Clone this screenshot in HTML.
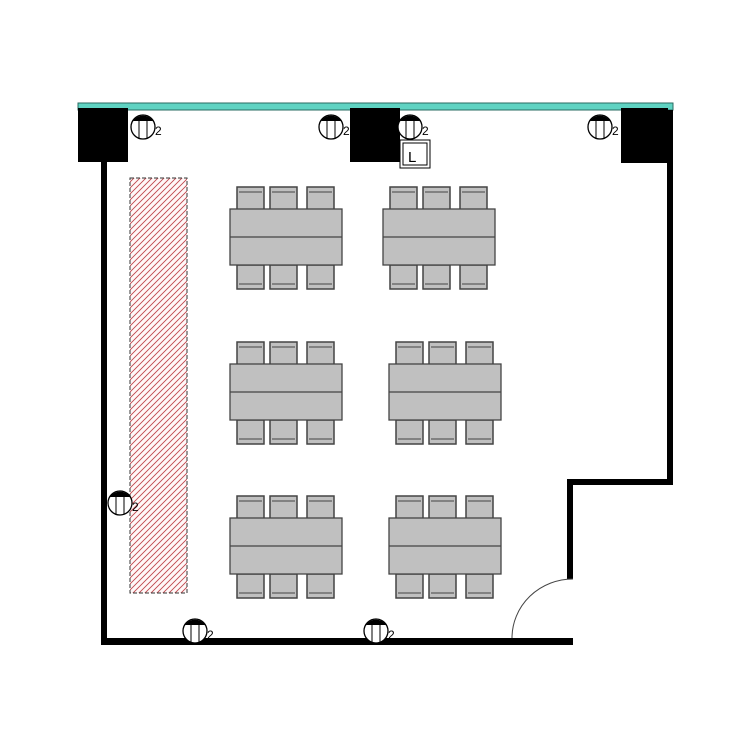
<!DOCTYPE html>
<html><head><meta charset="utf-8"><style>body{margin:0;background:#fff}svg{display:block}</style></head>
<body>
<svg width="750" height="750" viewBox="0 0 750 750" xmlns="http://www.w3.org/2000/svg" font-family="Liberation Sans, sans-serif">
<defs>
<pattern id="h" width="6" height="6" patternUnits="userSpaceOnUse">
<path d="M-1,7 L7,-1 M-1,1 L1,-1 M5,7 L7,5" stroke="#c0474d" stroke-width="0.9"/>
</pattern>
<g id="fx">
<circle cx="0" cy="0" r="12" fill="#fff" stroke="#000" stroke-width="1.3"/>
<path d="M-10,-6 A12,12 0 0 1 10,-6 Z" fill="#000"/>
<line x1="-4" y1="-6" x2="-4" y2="11" stroke="#000"/>
<line x1="4" y1="-6" x2="4" y2="11" stroke="#000"/>
<text x="12" y="8" font-size="12">2</text>
</g>
<g id="ch">
<rect x="0" y="0" width="27" height="24" fill="#c0c0c0" stroke="#444" stroke-width="1.5"/>
<line x1="2" y1="5" x2="25" y2="5" stroke="#444"/>
</g>
<g id="tb">
<use href="#ch" x="7" y="-22"/><use href="#ch" x="40" y="-22"/><use href="#ch" x="77" y="-22"/>
<use href="#ch" transform="translate(7,80) scale(1,-1)"/><use href="#ch" transform="translate(40,80) scale(1,-1)"/><use href="#ch" transform="translate(77,80) scale(1,-1)"/>
<rect x="0" y="0" width="112" height="56" fill="#c0c0c0" stroke="#444" stroke-width="1.3"/>
<line x1="0" y1="28" x2="112" y2="28" stroke="#444" stroke-width="1.3"/>
</g>
</defs>
<rect x="78" y="103" width="595" height="7" fill="#5fd3c2" stroke="#2a6b62" stroke-width="1"/>
<rect x="101" y="110" width="6" height="535" fill="#000"/>
<rect x="101" y="638" width="472" height="7" fill="#000"/>
<rect x="667" y="110" width="6" height="375" fill="#000"/>
<rect x="567" y="479" width="106" height="6" fill="#000"/>
<rect x="567" y="479" width="6" height="100" fill="#000"/>
<path d="M573,579 A61,59 0 0 0 512,638" fill="none" stroke="#444" stroke-width="1"/>
<rect x="78" y="108" width="50" height="54" fill="#000"/>
<rect x="350" y="108" width="50" height="54" fill="#000"/>
<rect x="621" y="108" width="47" height="55" fill="#000"/>
<rect x="130" y="178" width="57" height="415" fill="#fff8f8"/>
<rect x="130" y="178" width="57" height="415" fill="url(#h)" stroke="#333" stroke-dasharray="4,2" stroke-width="1"/>
<use href="#fx" x="143" y="127"/><use href="#fx" x="331" y="127"/><use href="#fx" x="410" y="127"/><use href="#fx" x="600" y="127"/>
<use href="#fx" x="120" y="503"/><use href="#fx" x="195" y="631"/><use href="#fx" x="376" y="631"/>
<rect x="400" y="140" width="30" height="28" fill="#fff" stroke="#000"/>
<rect x="403" y="143" width="24" height="22" fill="#fff" stroke="#000"/>
<text x="408" y="162" font-size="15">L</text>
<use href="#tb" x="230" y="209"/><use href="#tb" x="383" y="209"/>
<use href="#tb" x="230" y="364"/><use href="#tb" x="389" y="364"/>
<use href="#tb" x="230" y="518"/><use href="#tb" x="389" y="518"/>
</svg>
</body></html>
